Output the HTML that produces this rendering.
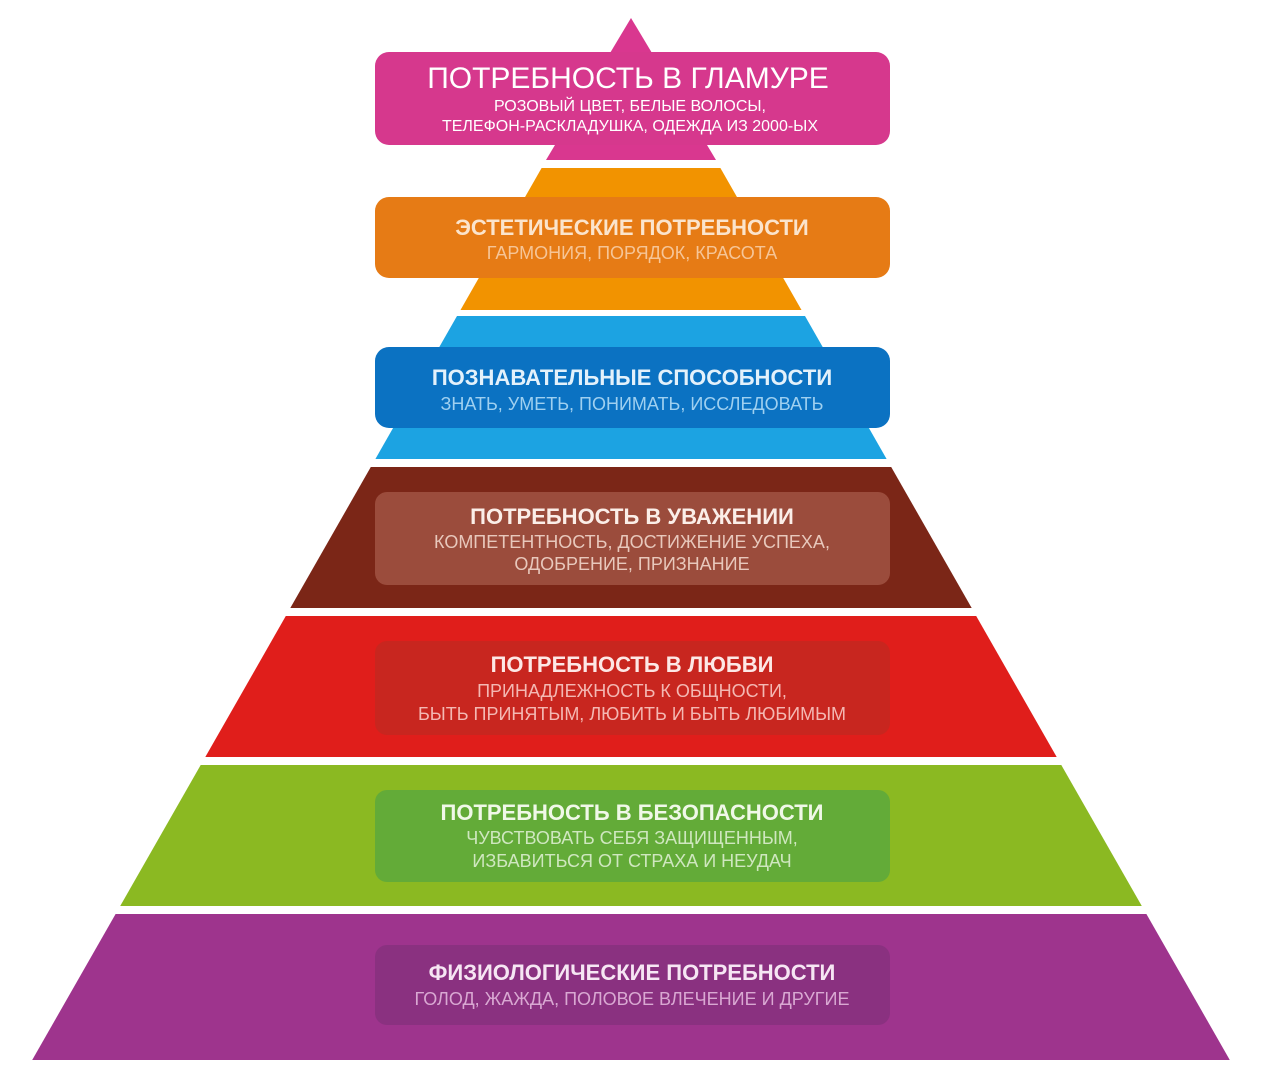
<!DOCTYPE html>
<html><head><meta charset="utf-8"><style>
html,body{margin:0;padding:0;background:#fff;}
svg{display:block;}
text{font-family:"Liberation Sans","DejaVu Sans",sans-serif;text-anchor:middle;}
.t{font-weight:bold;font-size:22px;}
.s{font-size:18px;}
</style></head><body>
<svg width="1261" height="1080" viewBox="0 0 1261 1080">
<polygon points="631,18 716,160 546,160" fill="#d9378f"/>
<polygon points="541.6,168 720.4,168 801.5,310 460.5,310" fill="#f29300"/>
<polygon points="457,316 805,316 886.6,459 375.4,459" fill="#1ca3e2"/>
<polygon points="370.8,467 891.2,467 971.7,608 290.3,608" fill="#7b2617"/>
<polygon points="285.8,616 976.2,616 1056.7,757 205.3,757" fill="#e01e1b"/>
<polygon points="200.7,765 1061.3,765 1141.8,906 120.2,906" fill="#8bb922"/>
<polygon points="115.6,914 1146.4,914 1229.8,1060 32.2,1060" fill="#9e348d"/>

<rect x="375" y="52" width="515" height="93" rx="14" fill="#d6388d"/>
<rect x="375" y="197" width="515" height="81" rx="14" fill="#e67b15"/>
<rect x="375" y="347" width="515" height="81" rx="14" fill="#0b72c2"/>
<rect x="375" y="492" width="515" height="93" rx="12" fill="#9b4c3c"/>
<rect x="375" y="641" width="515" height="94" rx="12" fill="#c8261f"/>
<rect x="375" y="790" width="515" height="92" rx="12" fill="#63ab38"/>
<rect x="375" y="945" width="515" height="80" rx="12" fill="#8a3180"/>

<text x="628" y="88" fill="#fff" style="font-size:30px;">ПОТРЕБНОСТЬ В ГЛАМУРЕ</text>
<text x="630" y="111" class="s" fill="#fff" style="font-size:16px">РОЗОВЫЙ ЦВЕТ, БЕЛЫЕ ВОЛОСЫ,</text>
<text x="630" y="131" class="s" fill="#fff" style="font-size:16px">ТЕЛЕФОН-РАСКЛАДУШКА, ОДЕЖДА ИЗ 2000-ЫХ</text>

<text x="632" y="235" class="t" fill="#fbe4cc">ЭСТЕТИЧЕСКИЕ ПОТРЕБНОСТИ</text>
<text x="632" y="259" class="s" fill="#f6c597">ГАРМОНИЯ, ПОРЯДОК, КРАСОТА</text>

<text x="632" y="385" class="t" fill="#e3f1fb">ПОЗНАВАТЕЛЬНЫЕ СПОСОБНОСТИ</text>
<text x="632" y="410" class="s" fill="#9fd0f0">ЗНАТЬ, УМЕТЬ, ПОНИМАТЬ, ИССЛЕДОВАТЬ</text>

<text x="632" y="524" class="t" fill="#fbeee8">ПОТРЕБНОСТЬ В УВАЖЕНИИ</text>
<text x="632" y="548" class="s" fill="#e8c8bc">КОМПЕТЕНТНОСТЬ, ДОСТИЖЕНИЕ УСПЕХА,</text>
<text x="632" y="570" class="s" fill="#e8c8bc">ОДОБРЕНИЕ, ПРИЗНАНИЕ</text>

<text x="632" y="672" class="t" fill="#fde8e6">ПОТРЕБНОСТЬ В ЛЮБВИ</text>
<text x="632" y="697" class="s" fill="#f4b8b3">ПРИНАДЛЕЖНОСТЬ К ОБЩНОСТИ,</text>
<text x="632" y="720" class="s" fill="#f4b8b3">БЫТЬ ПРИНЯТЫМ, ЛЮБИТЬ И БЫТЬ ЛЮБИМЫМ</text>

<text x="632" y="820" class="t" fill="#f0f8e8">ПОТРЕБНОСТЬ В БЕЗОПАСНОСТИ</text>
<text x="632" y="844" class="s" fill="#cfe7bf">ЧУВСТВОВАТЬ СЕБЯ ЗАЩИЩЕННЫМ,</text>
<text x="632" y="867" class="s" fill="#cfe7bf">ИЗБАВИТЬСЯ ОТ СТРАХА И НЕУДАЧ</text>

<text x="632" y="980" class="t" fill="#f6e6f3">ФИЗИОЛОГИЧЕСКИЕ ПОТРЕБНОСТИ</text>
<text x="632" y="1005" class="s" fill="#d9a8d2">ГОЛОД, ЖАЖДА, ПОЛОВОЕ ВЛЕЧЕНИЕ И ДРУГИЕ</text>
</svg>
</body></html>
